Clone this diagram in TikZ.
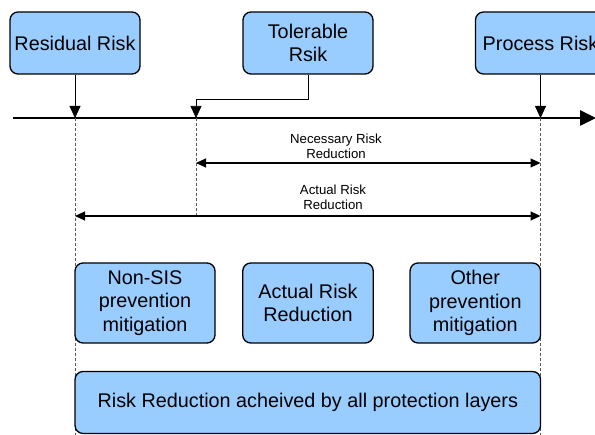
\documentclass[tikz,border=0pt]{standalone}
\usepackage{fontspec}
\setmainfont{Liberation Sans}
\usetikzlibrary{arrows.meta}
\definecolor{boxblue}{HTML}{99CCFF}

\begin{document}
\begin{tikzpicture}[
  x=1pt, y=-1pt,
  box/.style={draw, line width=1.3pt, fill=boxblue, rounded corners=8pt, align=center,
    inner sep=0pt, font=\fontsize{19.8}{23.5}\selectfont},
  pin/.style={thick, -{Triangle[length=12pt,width=11pt]}},
  span/.style={line width=1.1pt, {Triangle[length=10pt,width=9pt]}-{Triangle[length=10pt,width=9pt]}},
  guide/.style={densely dashed, line width=0.5pt, gray!70!black},
  lbl/.style={align=center, font=\fontsize{13.2}{14.8}\selectfont}
]
\useasboundingbox (0,0) rectangle (595,435);

% Top boxes
\node[box, minimum width=130pt, minimum height=62pt] (res) at (75,43) {Residual Risk};
\node[box, minimum width=130pt, minimum height=62pt] (tol) at (308,43) {Tolerable\\Rsik};
\node[box, minimum width=130pt, minimum height=62pt] (proc) at (540.5,43) {Process Risk};

% Risk axis
\coordinate (axL) at (13,118);
\coordinate (axR) at (596,118);
\coordinate (rr) at (75,118);
\coordinate (tr) at (196,118);
\coordinate (pr) at (540.5,118);
\coordinate (bend) at (196,99);
\draw[line width=2.6pt, -{Triangle[length=16pt,width=15pt]}] (axL) -- (axR);

\draw[pin] (res) -- (rr);
\draw[pin, semithick] (tol.south) |- (bend) -- (tr);
\draw[pin] (proc) -- (pr);

% Dashed guides
\coordinate (rrb) at (75,435);
\coordinate (trb) at (196,216);
\coordinate (prb) at (540.5,435);
\draw[guide] (rr) -- (rrb);
\draw[guide] (tr) -- (trb);
\draw[guide] (pr) -- (prb);

% Reduction spans
\coordinate (nL) at (196,163);
\coordinate (nR) at (540.5,163);
\coordinate (aL) at (75,216);
\coordinate (aR) at (540.5,216);
\draw[span] (nL) -- (nR);
\draw[span] (aL) -- (aR);
\node[lbl] (nrr) at (336,146) {Necessary Risk\\Reduction};
\node[lbl] (arr) at (333,197.5) {Actual Risk\\Reduction};

% Protection layers
\node[box, minimum width=140pt, minimum height=80pt] (nonsis) at (145,303) {Non-SIS\\prevention\\mitigation};
\node[box, minimum width=130.5pt, minimum height=80pt] (actual) at (308,303) {Actual Risk\\Reduction};
\node[box, minimum width=130.5pt, minimum height=80pt] (other) at (475.3,303) {Other\\prevention\\mitigation};
\node[box, minimum width=465.5pt, minimum height=62pt] (all) at (307.8,402.5) {Risk Reduction acheived by all protection layers};

\end{tikzpicture}
\end{document}
